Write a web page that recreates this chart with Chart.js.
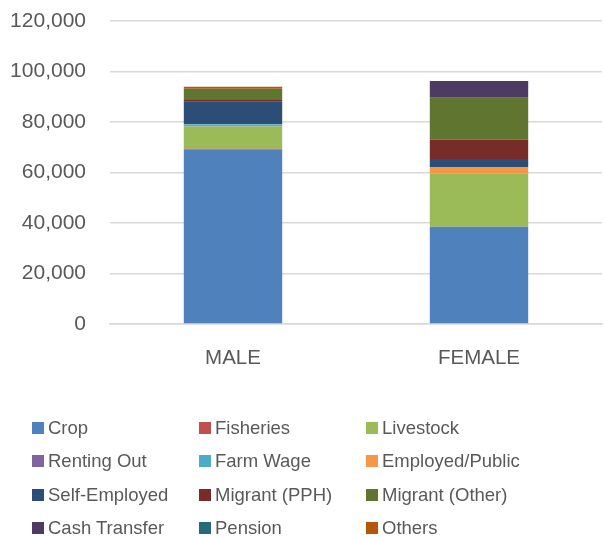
<!DOCTYPE html>
<html>
<head>
<meta charset="utf-8">
<script src="https://cdn.jsdelivr.net/npm/chart.js@4/dist/chart.umd.min.js"></script>
<style>
  body { margin: 0; background: #fff; font-family: "Liberation Sans", Arial, sans-serif; }
  #wrap { position: relative; width: 605px; height: 537px; }
  #chartBox { position: absolute; left: 0; top: 0; width: 605px; height: 390px; }
  #legend { position: absolute; left: 0; top: 0; width: 605px; height: 537px; pointer-events: none; }
  .item { position: absolute; display: flex; align-items: center; font-size: 18.5px; color: #595959; white-space: nowrap; }
  .item span.box { display: inline-block; width: 12px; height: 12px; margin-right: 4px; }
</style>
</head>
<body>
<div id="wrap">
  <div id="chartBox"><canvas id="incomeChart"></canvas></div>
  <div id="legend"></div>
</div>
<script>
// categorias e fontes de renda
const genders = ["MALE", "FEMALE"];
const sources = ["Crop", "Fisheries", "Livestock", "Renting Out", "Farm Wage", "Employed/Public",
  "Self-Employed", "Migrant (PPH)", "Migrant (Other)", "Cash Transfer", "Pension", "Others"];
const colors = ["#4F81BD", "#C0504D", "#9BBB59", "#8064A2", "#4BACC6", "#F79646",
  "#2C4D75", "#772C2A", "#5F7530", "#4D3B62", "#276A7C", "#B65708"];

// valores (MALE, FEMALE)
const crop = [69200, 38500];
const fisheries = [200, 0];
const livestock = [8800, 21200];
const rentingOut = [100, 0];
const farmWage = [800, 0];
const employedPublic = [100, 2500];
const selfEmployed = [8800, 3100];
const migrantPPH = [700, 7800];
const migrantOther = [4500, 16500];
const cashTransfer = [0, 6600];
const pension = [0, 0];
const others = [800, 0];

const yTicks = [0, 20000, 40000, 60000, 80000, 100000, 120000];

const values = [crop, fisheries, livestock, rentingOut, farmWage, employedPublic,
  selfEmployed, migrantPPH, migrantOther, cashTransfer, pension, others];

const textColor = "#595959";
const gridColor = "#d9d9d9";
const family = "'Liberation Sans', Arial, sans-serif";

new Chart(document.getElementById("incomeChart"), {
  type: "bar",
  data: {
    labels: genders,
    datasets: sources.map((s, i) => ({
      label: s,
      data: values[i],
      backgroundColor: colors[i],
      borderWidth: 0,
      barPercentage: 0.4,
      categoryPercentage: 1
    }))
  },
  options: {
    responsive: true,
    maintainAspectRatio: false,
    animation: false,
    layout: { padding: { top: 21, right: 3, left: 0, bottom: 0 } },
    plugins: { legend: { display: false }, tooltip: { enabled: false } },
    scales: {
      x: {
        stacked: true,
        grid: { display: false, drawTicks: false },
        border: { color: gridColor, width: 1.5 },
        ticks: { color: textColor, font: { family: family, size: 20.5 }, padding: 22 },
        afterFit: (scale) => { scale.height = 66; }
      },
      y: {
        stacked: true,
        min: 0,
        max: 120000,
        afterBuildTicks: (scale) => { scale.ticks = yTicks.map(v => ({ value: v })); },
        grid: { color: gridColor, lineWidth: 1.5, drawTicks: false },
        border: { display: false },
        ticks: {
          color: textColor,
          font: { family: family, size: 21 },
          padding: 24,
          callback: (v) => v.toLocaleString("en-US")
        },
        afterFit: (scale) => {
          scale.width = 110;
          scale.paddingTop = 0;
          scale.paddingBottom = 0;
        }
      }
    }
  }
});

// Legenda em três colunas
const legend = document.getElementById("legend");
const colX = [32, 199, 366];
const rowY = [428, 461, 495, 528];
sources.forEach((s, i) => {
  const div = document.createElement("div");
  div.className = "item";
  div.style.left = colX[i % 3] + "px";
  div.style.top = (rowY[Math.floor(i / 3)] - 12) + "px";
  div.style.height = "24px";
  div.innerHTML = '<span class="box" style="background:' + colors[i] + '"></span>' + s;
  legend.appendChild(div);
});
</script>
</body>
</html>
